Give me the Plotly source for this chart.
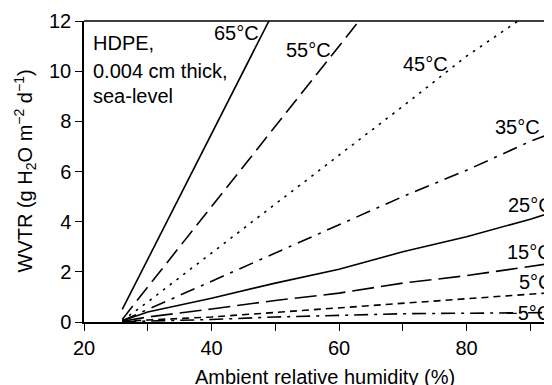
import plotly.graph_objects as go

rh = [26, 30, 40, 50, 60, 70, 80, 90, 95]

wvtr_65 = [0.5, 2.5, 7.5, 12.5]
rh_65 = [26, 30, 40, 50]
wvtr_55 = [0.1, 1.4, 4.6, 7.8, 11.0, 14.2]
rh_55 = [26, 30, 40, 50, 60, 70]
wvtr_45 = [0.05, 0.8, 2.75, 4.7, 6.65, 8.6, 10.6, 12.3, 13.2]
wvtr_35 = [0.05, 0.5, 1.62, 2.75, 3.88, 5.0, 6.05, 7.2, 7.7]
wvtr_25 = [0.05, 0.4, 0.95, 1.55, 2.1, 2.8, 3.4, 4.1, 4.5]
wvtr_15 = [0.03, 0.2, 0.52, 0.86, 1.15, 1.55, 1.85, 2.2, 2.4]
wvtr_5 = [0.02, 0.08, 0.2, 0.38, 0.55, 0.75, 0.92, 1.1, 1.2]
wvtr_m5 = [0.01, 0.03, 0.1, 0.2, 0.28, 0.33, 0.35, 0.37, 0.38]

series = [
    ("65°C", rh_65, wvtr_65, "solid"),
    ("55°C", rh_55, wvtr_55, "17px,7px"),
    ("45°C", rh, wvtr_45, "2.5px,6px"),
    ("35°C", rh, wvtr_35, "15px,7px,3px,7px"),
    ("25°C", rh, wvtr_25, "solid"),
    ("15°C", rh, wvtr_15, "22px,7px"),
    ("5°C", rh, wvtr_5, "7px,5px"),
    ("−5°C", rh, wvtr_m5, "14px,6px,3px,6px"),
]

label_pos = [
    ("65°C", 40.0, 11.53),
    ("55°C", 51.3, 10.86),
    ("45°C", 69.7, 10.3),
    ("35°C", 84.1, 7.79),
    ("25°C", 86.2, 4.68),
    ("15°C", 86.0, 2.80),
    ("5°C", 87.9, 1.61),
    ("−5°C", 85.9, 0.37),
]

FONT = "Liberation Sans, Arial, Helvetica, sans-serif"
FS = 20

fig = go.Figure()
for name, xs, ys, dash in series:
    fig.add_trace(go.Scatter(x=xs, y=ys, mode="lines", name=name,
                             line=dict(color="black", width=1.6, dash=dash),
                             showlegend=False))

for txt, x, y in label_pos:
    fig.add_annotation(x=x, y=y, xref="x", yref="y", text=txt, showarrow=False,
                       xanchor="left", yanchor="middle",
                       font=dict(family=FONT, size=FS, color="black"))

for i, txt in enumerate(["HDPE,", "0.004 cm thick,", "sea-level"]):
    ypix = [43.3, 71.0, 96.0][i]
    fig.add_annotation(x=21.1, y=(322.3 - ypix) / 25.08, xref="x", yref="y",
                       text=txt, showarrow=False, xanchor="left", yanchor="middle",
                       font=dict(family=FONT, size=FS, color="black"))

fig.add_annotation(x=(325 - 84) / 468, y=-(377 - 322) / 301, xref="paper", yref="paper",
                   text="Ambient relative humidity (%)", showarrow=False,
                   xanchor="center", yanchor="middle",
                   font=dict(family=FONT, size=FS, color="black"))

fig.add_annotation(x=(25 - 84) / 468, y=0.5, xref="paper", yref="paper",
                   text="WVTR (g H<sub>2</sub>O m<sup>−2</sup> d<sup>−1</sup>)",
                   textangle=-90, showarrow=False, xanchor="center", yanchor="middle",
                   font=dict(family=FONT, size=FS, color="black"))

fig.add_shape(type="line", xref="paper", yref="paper", x0=0, x1=1, y0=1, y1=1,
              line=dict(color="black", width=1.5))

fig.update_xaxes(range=[20, 93.4], tickvals=[20, 40, 60, 80],
                 ticks="outside", ticklen=7, tickwidth=1.2, tickcolor="black",
                 minor=dict(dtick=10, tick0=20, ticks="outside", ticklen=7,
                            tickwidth=1.2, tickcolor="black", showgrid=False),
                 showline=True, linecolor="black", linewidth=1.5,
                 showgrid=False, zeroline=False,
                 tickfont=dict(family=FONT, size=FS, color="black"))
fig.update_yaxes(range=[0, 12], tickvals=[0, 2, 4, 6, 8, 10, 12],
                 ticks="outside", ticklen=7, tickwidth=1.2, tickcolor="black",
                 showline=True, linecolor="black", linewidth=1.5,
                 showgrid=False, zeroline=False,
                 tickfont=dict(family=FONT, size=FS, color="black"))

# page body has an 8px margin; size the figure so the plot lands where the reference has it
fig.update_layout(width=544, height=377, margin=dict(l=76, r=0, t=13, b=63),
                  plot_bgcolor="white", paper_bgcolor="white")

fig.write_html("out.html")
